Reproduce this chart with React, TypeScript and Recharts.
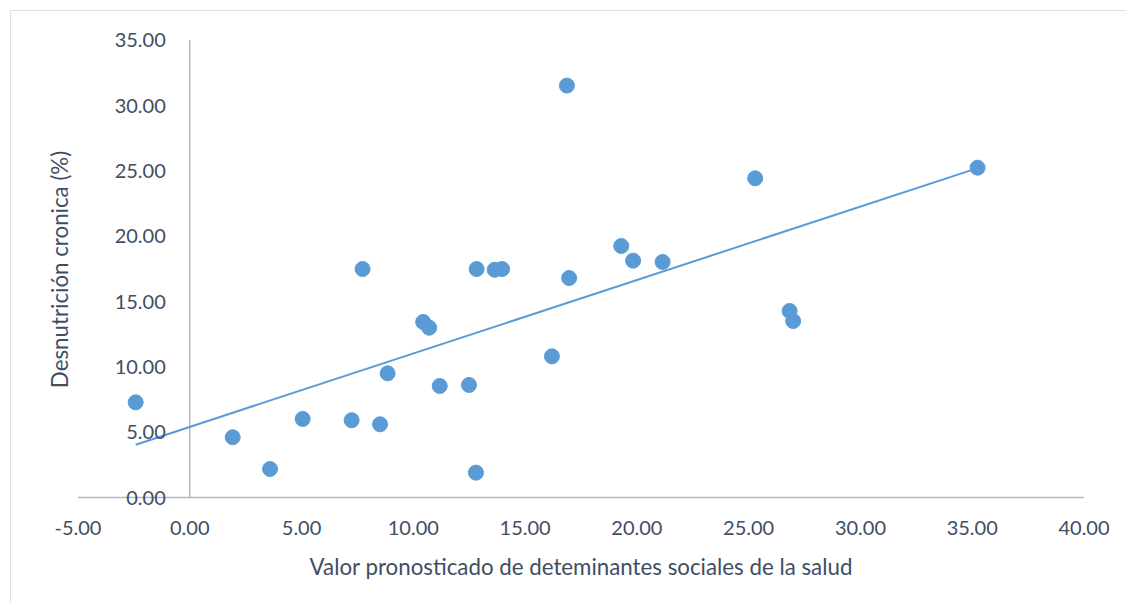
import React from "react";
import {
  ScatterChart,
  Scatter,
  XAxis,
  YAxis,
  ReferenceLine,
  Label,
} from "recharts";

const xValues = [
  -2.42, 1.92, 3.59, 5.05, 7.24, 7.73, 8.51, 8.85, 10.44, 10.71, 11.18, 12.49, 12.8,
  12.83, 13.64, 13.97, 16.87, 25.29, 19.3, 19.83, 21.15, 16.97, 16.2, 26.83, 26.99, 35.24,
];
const yValues = [
  7.28, 4.61, 2.18, 6.01, 5.91, 17.48, 5.6, 9.5, 13.43, 12.99, 8.53, 8.61, 1.9, 17.48,
  17.42, 17.48, 31.51, 24.42, 19.24, 18.12, 18.02, 16.79, 10.8, 14.27, 13.5, 25.23,
];
const trendX = [-2.42, 35.24];
const trendY = [4.04, 25.2];
const xTicks = [-5, 0, 5, 10, 15, 20, 25, 30, 35, 40];
const yTicks = [0, 5, 10, 15, 20, 25, 30, 35];
const xTitle = "Valor pronosticado de deteminantes sociales de la salud";
const yTitle = "Desnutrición cronica (%)";

const points = xValues.map((x, i) => ({ x, y: yValues[i] }));
const trend = trendX.map((x, i) => ({ x, y: trendY[i] }));

const W = 1126;
const H = 594;
const YAXIS_W = 60;
const M = { top: 32, right: 50, left: 10, bottom: 44.5 };
const XAXIS_H = 60;
const PLOT_LEFT = M.left + YAXIS_W;
const PLOT_W = W - PLOT_LEFT - M.right;
const PLOT_BOTTOM = H - M.bottom - XAXIS_H;
const X_MIN = -5;
const X_MAX = 40;
const ZERO_X = PLOT_LEFT + (PLOT_W * (0 - X_MIN)) / (X_MAX - X_MIN);

const FONT = "Lato, 'Open Sans', sans-serif";
const FS = 20;
const FS_T = 22.3;
const TEXT = "#3F4E63";
const AXIS = "#ADB9CA";
const BLUE = "#5B9BD5";

const XTick = (props: any) => {
  const { x, payload } = props;
  return (
    <text
      x={x}
      y={PLOT_BOTTOM + 30.5 + FS * 0.36}
      textAnchor="middle"
      fontFamily={FONT}
      fontSize={FS}
      fill={TEXT}
    >
      {Number(payload.value).toFixed(2)}
    </text>
  );
};

const YTick = (props: any) => {
  const { y, payload } = props;
  return (
    <text
      x={ZERO_X - 24}
      y={y + FS * 0.36}
      textAnchor="end"
      fontFamily={FONT}
      fontSize={FS}
      fill={TEXT}
    >
      {Number(payload.value).toFixed(2)}
    </text>
  );
};

const Dot = (props: any) => (
  <circle cx={props.cx} cy={props.cy} r={7.5} fill={BLUE} stroke={BLUE} strokeWidth={1} />
);
const NoDot = () => <g />;

const XTitle = () => (
  <text
    x={PLOT_LEFT + PLOT_W / 2}
    y={PLOT_BOTTOM + 69 + FS_T * 0.36}
    textAnchor="middle"
    fontFamily={FONT}
    fontSize={FS_T}
    fill={TEXT}
  >
    {xTitle}
  </text>
);

const YTitle = () => {
  const cx = 52 + FS_T * 0.36;
  const cy = 261.5;
  return (
    <text
      x={cx}
      y={cy}
      transform={`rotate(-90 ${cx} ${cy})`}
      textAnchor="middle"
      fontFamily={FONT}
      fontSize={FS_T}
      fill={TEXT}
    >
      {yTitle}
    </text>
  );
};

export default function App() {
  return (
    <div style={{ position: "relative", width: W, height: H, background: "#fff" }}>
      <div
        style={{
          position: "absolute",
          left: 2,
          top: 2,
          width: W,
          height: H,
          borderTop: "1.5px solid #DCE1E9",
          borderLeft: "1.5px solid #DCE1E9",
          boxSizing: "border-box",
        }}
      />
      <ScatterChart width={W} height={H} margin={M} style={{ position: "absolute", left: 0, top: 0 }}>
        <XAxis
          type="number"
          dataKey="x"
          domain={[X_MIN, X_MAX]}
          ticks={xTicks}
          allowDataOverflow
          height={XAXIS_H}
          axisLine={{ stroke: AXIS, strokeWidth: 1.5 }}
          tickLine={false}
          tick={<XTick />}
          interval={0}
        >
          <Label content={<XTitle />} />
        </XAxis>
        <YAxis
          type="number"
          dataKey="y"
          domain={[0, 35]}
          ticks={yTicks}
          width={YAXIS_W}
          axisLine={false}
          tickLine={false}
          tick={<YTick />}
          interval={0}
        >
          <Label content={<YTitle />} />
        </YAxis>
        <ReferenceLine x={0} stroke={AXIS} strokeWidth={1.5} />
        <Scatter
          data={trend}
          line={{ stroke: BLUE, strokeWidth: 2 }}
          shape={<NoDot />}
          isAnimationActive={false}
        />
        <Scatter data={points} shape={<Dot />} isAnimationActive={false} />
      </ScatterChart>
    </div>
  );
}
